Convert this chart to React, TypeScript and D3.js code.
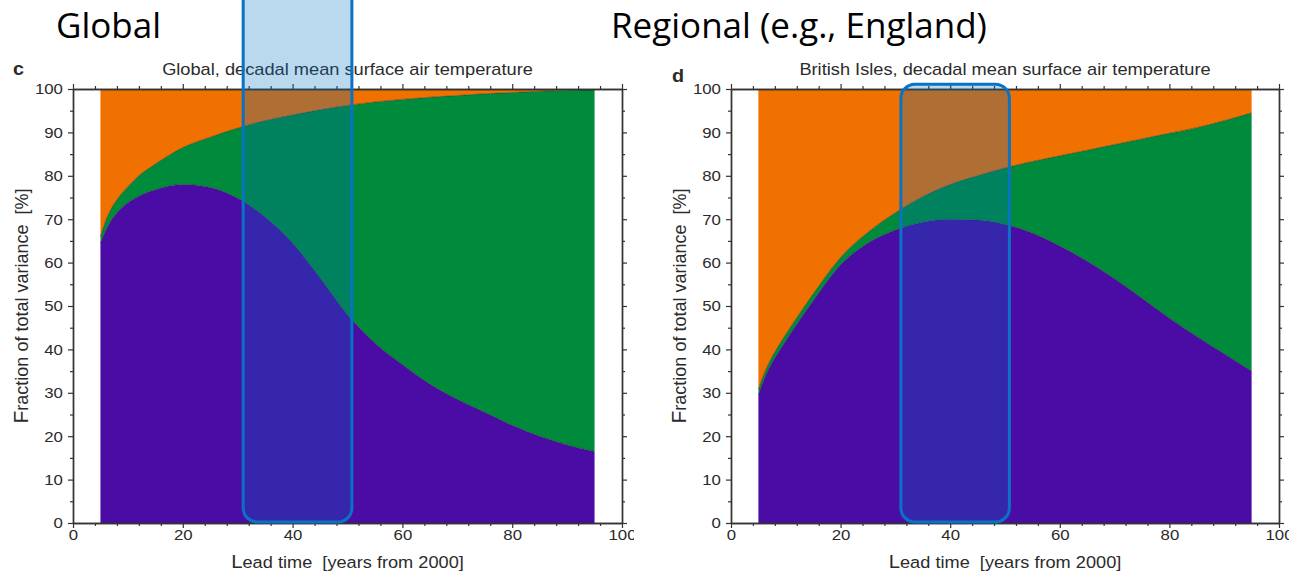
import React, { useEffect, useRef } from "react";
import * as d3 from "d3";

// lead time [years from 2000]
const leadTime = [5, 6, 7, 8, 10, 12, 15, 20, 25, 30, 35, 40, 45, 50, 55, 60, 65, 70, 75, 80, 85, 90, 95];

// global, share of total variance [%]
const globalModel = [64.5, 67.5, 69.8, 71.5, 73.8, 75.3, 76.8, 78, 77.3, 74.8, 70.5, 64.5, 56.5, 48, 41.5, 36.5, 32, 28.5, 25.5, 22.5, 20, 18, 16.5];
const globalScenario = [1.5, 2.3, 2.7, 3, 3.7, 4.7, 5.9, 8.5, 11.6, 16.2, 22.2, 29.5, 38.7, 48.2, 55.5, 61.1, 66.1, 70, 73.4, 76.7, 79.5, 81.7, 83.3];
const globalInternal = [34, 30.2, 27.5, 25.5, 22.5, 20, 17.3, 13.5, 11.1, 9, 7.3, 6, 4.8, 3.8, 3, 2.4, 1.9, 1.5, 1.1, 0.8, 0.5, 0.3, 0.2];

// british isles, share of total variance [%]
const britishModel = [29.5, 33, 35.8, 38, 42, 45.8, 51.2, 59.5, 64.5, 67.5, 69.3, 70, 69.8, 68.8, 66.8, 63.8, 60.3, 56.3, 51.8, 47.2, 43, 39, 35];
const britishScenario = [1.3, 1.3, 1.3, 1.4, 1.5, 1.5, 1.6, 1.7, 2.5, 4, 5.9, 8, 10.2, 13, 16.5, 20.8, 25.6, 30.9, 36.7, 42.6, 48.1, 53.7, 59.5];
const britishInternal = [69.2, 65.7, 62.9, 60.6, 56.5, 52.7, 47.2, 38.8, 33, 28.5, 24.8, 22, 20, 18.2, 16.7, 15.4, 14.1, 12.8, 11.5, 10.2, 8.9, 7.3, 5.5];

const xTickLabels = [0, 20, 40, 60, 80, 100];
const yTickLabels = [0, 10, 20, 30, 40, 50, 60, 70, 80, 90, 100];
const highlight = [31, 50.8]; // lead time window of the blue box

const W = 1289;
const H = 574;
const FONT = "'Liberation Sans', Arial, Helvetica, sans-serif";
const colors: Record<string, string> = { model: "#4a0ca5", scenario: "#008a3c", internal: "#f07000" };

type Panel = {
  left: number;
  right: number;
  letter: string;
  letterX: number;
  letterY: number;
  title: string;
  model: number[];
  scenario: number[];
  internal: number[];
  boxTop: number | null;
};

const panels: Panel[] = [
  {
    left: 73, right: 622, letter: "c", letterX: 13, letterY: 75,
    title: "Global, decadal mean surface air temperature",
    model: globalModel, scenario: globalScenario, internal: globalInternal, boxTop: null,
  },
  {
    left: 731, right: 1279, letter: "d", letterX: 672, letterY: 82,
    title: "British Isles, decadal mean surface air temperature",
    model: britishModel, scenario: britishScenario, internal: britishInternal, boxTop: 101.1,
  },
];

const text = (g: any, x: number, y: number, s: string, size: number, sx = 1, anchor = "middle") =>
  g.append("text")
    .attr("transform", `translate(${x},${y}) scale(${sx},1)`)
    .attr("text-anchor", anchor)
    .attr("font-family", FONT)
    .attr("font-size", size)
    .attr("fill", "#2b2b2b")
    .text(s);

function drawPanel(svg: any, p: Panel) {
  const top = 89;
  const bottom = 523;
  const x = d3.scaleLinear().domain([0, 100]).range([p.left, p.right]);
  const y = d3.scaleLinear().domain([0, 100]).range([bottom, top]);
  const g = svg.append("g");

  const rows = leadTime.map((t, i) => ({ t, model: p.model[i], scenario: p.scenario[i], internal: p.internal[i] }));
  const series = d3.stack<any>().keys(["model", "scenario", "internal"])(rows);

  const area = d3.area<any>()
    .x((d) => x(d.data.t))
    .y0((d) => y(d[0]))
    .y1((d) => y(d[1]))
    .curve(d3.curveMonotoneX);
  g.selectAll("path.layer").data(series).join("path")
    .attr("class", "layer")
    .attr("d", area)
    .attr("fill", (s: any) => colors[s.key]);

  // thin dark edges between the layers
  const edge = d3.line<any>().x((d) => x(d.data.t)).y((d) => y(d[1])).curve(d3.curveMonotoneX);
  g.selectAll("path.edge").data(series.slice(0, 2)).join("path")
    .attr("class", "edge")
    .attr("d", edge)
    .attr("fill", "none")
    .attr("stroke", "#1a1a1a")
    .attr("stroke-opacity", 0.45)
    .attr("stroke-width", 0.9);

  const minorX = d3.range(4, 100, 4).filter((v) => v % 20 !== 0);
  const minorY = d3.range(5, 100, 10);
  const style = (a: any) => {
    a.selectAll("path.domain").attr("stroke", "#333").attr("stroke-width", 1.4);
    a.selectAll("line").attr("stroke", "#333").attr("stroke-width", 1.2);
  };

  // bottom
  const xb = g.append("g").attr("transform", `translate(0,${bottom})`)
    .call(d3.axisBottom(x).tickValues(xTickLabels).tickSize(5).tickPadding(1).tickSizeOuter(0));
  style(xb);
  xb.selectAll("text").attr("font-family", FONT).attr("font-size", 15).attr("fill", "#2b2b2b")
    .attr("transform", "scale(1.12,1)");
  g.append("g").attr("transform", `translate(0,${bottom})`)
    .call(d3.axisBottom(x).tickValues(minorX).tickSize(3).tickFormat(() => "").tickSizeOuter(0))
    .call(style);

  // top
  g.append("g").attr("transform", `translate(0,${top})`)
    .call(d3.axisTop(x).tickValues(xTickLabels).tickSize(5).tickFormat(() => "").tickSizeOuter(0))
    .call(style);
  g.append("g").attr("transform", `translate(0,${top})`)
    .call(d3.axisTop(x).tickValues(minorX).tickSize(3).tickFormat(() => "").tickSizeOuter(0))
    .call(style);

  // left
  const yl = g.append("g").attr("transform", `translate(${p.left},0)`)
    .call(d3.axisLeft(y).tickValues(yTickLabels).tickSize(5).tickPadding(4).tickSizeOuter(0));
  style(yl);
  yl.selectAll("text").attr("font-family", FONT).attr("font-size", 15).attr("fill", "#2b2b2b")
    .attr("transform", "scale(1.12,1)");
  g.append("g").attr("transform", `translate(${p.left},0)`)
    .call(d3.axisLeft(y).tickValues(minorY).tickSize(3).tickFormat(() => "").tickSizeOuter(0))
    .call(style);

  // right
  g.append("g").attr("transform", `translate(${p.right},0)`)
    .call(d3.axisRight(y).tickValues(yTickLabels).tickSize(5).tickFormat(() => "").tickSizeOuter(0))
    .call(style);
  g.append("g").attr("transform", `translate(${p.right},0)`)
    .call(d3.axisRight(y).tickValues(minorY).tickSize(3).tickFormat(() => "").tickSizeOuter(0))
    .call(style);

  const cx = (p.left + p.right) / 2;
  text(g, cx, 75, p.title, 16, 1.14);
  text(g, p.letterX, p.letterY, p.letter, 18, 1.1, "start").attr("font-weight", "bold");

  // axis titles
  const xt = text(g, cx, 568, "", 17, 1.07).style("white-space", "pre");
  xt.append("tspan").attr("font-size", 19).text("L");
  xt.append("tspan").text("ead time  [years from 2000]");

  const yt = g.append("text")
    .attr("transform", `translate(${p.left - 45},${(top + bottom) / 2}) rotate(-90)`)
    .attr("text-anchor", "middle")
    .attr("font-family", FONT)
    .attr("font-size", 18)
    .attr("fill", "#2b2b2b")
    .style("white-space", "pre");
  yt.append("tspan").attr("font-size", 21).text("F");
  yt.append("tspan").text("raction of total variance  [%]");

  // highlighted window
  const by0 = p.boxTop === null ? -20 : y(p.boxTop);
  svg.append("rect")
    .attr("x", x(highlight[0]))
    .attr("y", by0)
    .attr("width", x(highlight[1]) - x(highlight[0]))
    .attr("height", y(0) - 1 - by0)
    .attr("rx", 14)
    .attr("fill", "#0070c0")
    .attr("fill-opacity", 0.27)
    .attr("stroke", "#0a72c4")
    .attr("stroke-width", 3);
}

const App = () => {
  const ref = useRef<SVGSVGElement>(null);

  useEffect(() => {
    const svg = d3.select(ref.current);
    svg.selectAll("*").remove();
    svg.append("rect").attr("width", W).attr("height", H).attr("fill", "#fff");

    drawPanel(svg, panels[0]);
    // the right figure sits on top of the left one's edge
    svg.append("rect").attr("x", 634).attr("y", 52).attr("width", W - 634).attr("height", H - 52).attr("fill", "#fff");
    drawPanel(svg, panels[1]);

    const heading = (x: number, s: string) =>
      svg.append("text")
        .attr("x", x)
        .attr("y", 38)
        .attr("font-family", "'Open Sans', sans-serif")
        .attr("font-size", 35)
        .attr("fill", "#000")
        .text(s);
    heading(56, "Global");
    heading(611, "Regional (e.g., England)");
  }, []);

  return <svg ref={ref} width={W} height={H} style={{ position: "absolute", left: 0, top: 0 }} />;
};

export default App;
